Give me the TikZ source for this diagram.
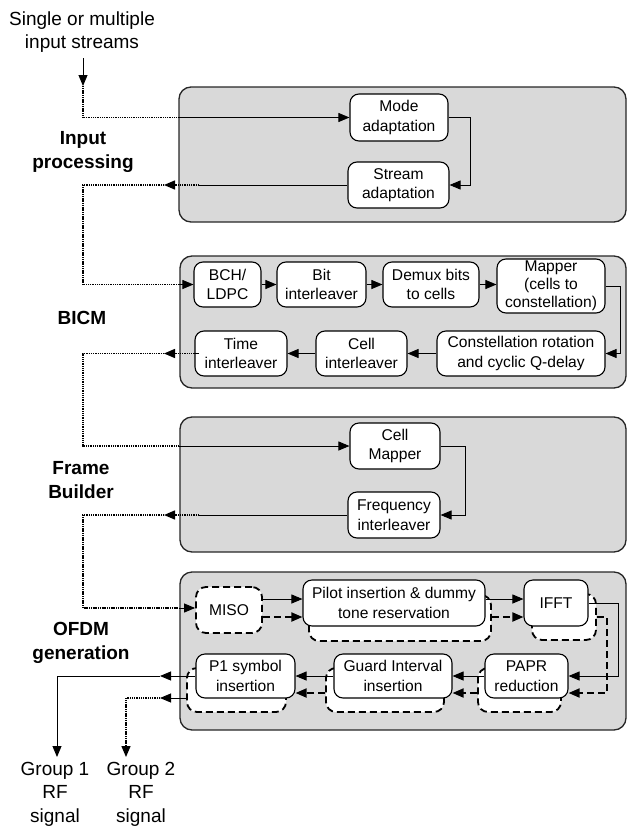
\documentclass[tikz,border=0pt]{standalone}
\usepackage{fontspec}
\setmainfont{Liberation Sans}
\usetikzlibrary{arrows.meta}
\definecolor{panelgray}{RGB}{217,217,217}
\begin{document}
\begin{tikzpicture}[x=1pt,y=-1pt,
  panel/.style={draw=black!85, line width=1.3pt, fill=panelgray, rounded corners=12pt},
  box/.style={draw=black, line width=1.1pt, fill=white, rounded corners=9pt, align=center, inner sep=0pt, font=\fontsize{15.6}{19.5}\selectfont},
  dbox/.style={draw=black, line width=1.8pt, dash pattern=on 7pt off 4pt, fill=white, rounded corners=10pt, align=center, inner sep=0pt, font=\fontsize{15.6}{19.5}\selectfont},
  tip/.style={-{Triangle[length=11pt,width=9pt]}},
  conn/.style={line width=0.9pt, tip},
  line/.style={line width=0.9pt},
  dotl/.style={line width=1.4pt, dash pattern=on 1.1pt off 0.7pt},
  dconn/.style={line width=1.8pt, dash pattern=on 7pt off 4pt, tip},
  lab/.style={font=\bfseries\fontsize{19}{24}\selectfont, align=center},
  txt/.style={font=\fontsize{19}{23.5}\selectfont, align=center, inner sep=0pt}
]
\useasboundingbox (0,0) rectangle (628,830);

% ---------- source text ----------
\node[txt] (src) at (82,32) {Single or multiple\\input streams};

% ---------- panels ----------
\path[panel] (179,87) rectangle (626,222);
\path[panel] (180,256) rectangle (626,388);
\path[panel] (180,417) rectangle (626,552);
\path[panel] (180,572) rectangle (626,730);

% ---------- side labels ----------
\node[lab] (lip) at (83,152) {Input\\processing};
\node[lab] (lbicm) at (82,318) {BICM};
\node[lab] (lfb) at (81,480) {Frame\\Builder};
\node[lab] (lofdm) at (81,643) {OFDM\\generation};

% ---------- input processing ----------
\node[box, minimum width=98pt, minimum height=47pt] (mode) at (399,117.5) {Mode\\adaptation};
\node[box, minimum width=101pt, minimum height=46pt] (stream) at (398.5,185) {Stream\\adaptation};

% ---------- BICM ----------
\node[box, minimum width=67pt, minimum height=45pt] (bch) at (227.5,284.5) {BCH/\\LDPC};
\node[box, minimum width=89pt, minimum height=45pt] (bit) at (321.5,284.5) {Bit\\interleaver};
\node[box, minimum width=96pt, minimum height=45pt] (demux) at (431,284.5) {Demux bits\\to cells};
\node[box, minimum width=108pt, minimum height=54pt, font=\fontsize{15.6}{18}\selectfont] (mapper) at (551,286) {Mapper\\(cells to\\constellation)};
\node[box, minimum width=168pt, minimum height=45pt] (constel) at (521,353.5) {Constellation rotation\\and cyclic Q-delay};
\node[box, minimum width=91pt, minimum height=45pt] (cellint) at (361.5,353.5) {Cell\\interleaver};
\node[box, minimum width=92pt, minimum height=45pt] (timeint) at (241,353.5) {Time\\interleaver};

% ---------- Frame builder ----------
\node[box, minimum width=90pt, minimum height=46pt] (cellmap) at (395,446) {Cell\\Mapper};
\node[box, minimum width=92pt, minimum height=46pt] (freq) at (394,515) {Frequency\\interleaver};

% ---------- OFDM ----------
\node[dbox, minimum width=66pt, minimum height=46pt] (miso) at (229,610) {MISO};
\node[dbox, minimum width=182pt, minimum height=46pt] (pilotB) at (400,618) {};
\node[dbox, minimum width=64pt, minimum height=46pt] (ifftB) at (564,617) {};
\node[dbox, minimum width=83pt, minimum height=44pt] (paprB) at (519.5,690) {};
\node[dbox, minimum width=118pt, minimum height=44pt] (guardB) at (385,690) {};
\node[dbox, minimum width=99pt, minimum height=44pt] (p1B) at (236.5,690) {};
\node[box, minimum width=182pt, minimum height=46pt] (pilot) at (394,603) {Pilot insertion \& dummy\\tone reservation};
\node[box, minimum width=64pt, minimum height=46pt] (ifft) at (556,603) {IFFT};
\node[box, minimum width=83pt, minimum height=44pt] (papr) at (526.5,676) {PAPR\\reduction};
\node[box, minimum width=118pt, minimum height=44pt] (guard) at (393,676) {Guard Interval\\insertion};
\node[box, minimum width=99pt, minimum height=44pt] (p1) at (245.5,676) {P1 symbol\\insertion};

% ---------- outputs text ----------
\node[txt, anchor=north] (g1) at (55,762) {Group 1\\RF\\signal};
\node[txt, anchor=north] (g2) at (141,762) {Group 2\\RF\\signal};

% ---------- coordinates ----------
\coordinate (inTop) at (83,58);
\coordinate (inMid) at (83,86);
\coordinate (inEdge) at (178,117.5);
\coordinate (o1a) at (199,185);
\coordinate (o1b) at (164,185);
\coordinate (v1) at (83,284.5);
\coordinate (b1) at (179,284.5);
\coordinate (o2a) at (199,353.5);
\coordinate (o2b) at (164,353.5);
\coordinate (v2) at (83,446);
\coordinate (b2) at (179,446);
\coordinate (o3a) at (199,515);
\coordinate (o3b) at (164,515);
\coordinate (v3) at (83,608);
\coordinate (b3) at (179,608);
\coordinate (ys1) at (0,599);
\coordinate (yd1) at (0,617);
\coordinate (yd2) at (0,693);
\coordinate (yg2) at (0,698);
\coordinate (g1a) at (160,676);
\coordinate (g2a) at (160,698);
\coordinate (g1t) at (57,757);
\coordinate (g2t) at (126,757);

% ---------- connectors: input processing ----------
\draw[conn] (inTop) -- (inMid);
\draw[dotl] (inMid) |- (inEdge);
\draw[conn] (inEdge) -- (mode.west);
\draw[conn] (mode.east) -- ++(22,0) |- (stream.east);
\draw[line] (stream.west) -- (o1a);
\draw[dotl, tip] (o1a) -- (o1b);
\draw[dotl] (o1b) -| (v1) -- (b1);
\draw[conn] (b1) -- (bch.west);

% ---------- connectors: BICM ----------
\draw[conn] (bch.east) -- (bit.west);
\draw[conn] (bit.east) -- (demux.west);
\draw[conn] (demux.east) -- (demux.east -| mapper.west);
\draw[conn] (mapper.east) -- ++(15,0) |- (constel.east);
\draw[conn] (constel.west) -- (cellint.east);
\draw[conn] (cellint.west) -- (timeint.east);
\draw[line] (timeint.west) -- (o2a);
\draw[dotl, tip] (o2a) -- (o2b);
\draw[dotl] (o2b) -| (v2) -- (b2);
\draw[conn] (b2) -- (cellmap.west);

% ---------- connectors: frame builder ----------
\draw[conn] (cellmap.east) -- ++(25,0) |- (freq.east);
\draw[line] (freq.west) -- (o3a);
\draw[dotl, tip] (o3a) -- (o3b);
\draw[dotl] (o3b) -| (v3) -- (b3);
\draw[conn] (b3) -- (b3 -| miso.west);

% ---------- connectors: OFDM ----------
\draw[conn] (miso.east |- ys1) -- (pilot.west |- ys1);
\draw[dconn] (miso.east |- yd1) -- (pilot.west |- yd1);
\draw[conn] (pilot.east |- ys1) -- (ifft.west |- ys1);
\draw[dconn] (pilotB.east |- yd1) -- (ifft.west |- yd1);
\draw[conn] (ifft.east) -- ++(30,0) |- (papr.east);
\draw[dconn] (ifftB.east |- yd1) -- ++(10,0) |- (papr.east |- yd2);
\draw[conn] (papr.west) -- (guard.east);
\draw[dconn] (paprB.west |- yd2) -- (guard.east |- yd2);
\draw[conn] (guard.west) -- (p1.east);
\draw[dconn] (guardB.west |- yd2) -- (p1.east |- yd2);

% ---------- outputs ----------
\draw[conn] (p1.west) -- (g1a);
\draw[conn] (g1a) -| (g1t);
\draw[conn] (p1B.west |- yg2) -- (g2a);
\draw[dotl, tip] (g2a) -| (g2t);
\end{tikzpicture}
\end{document}
